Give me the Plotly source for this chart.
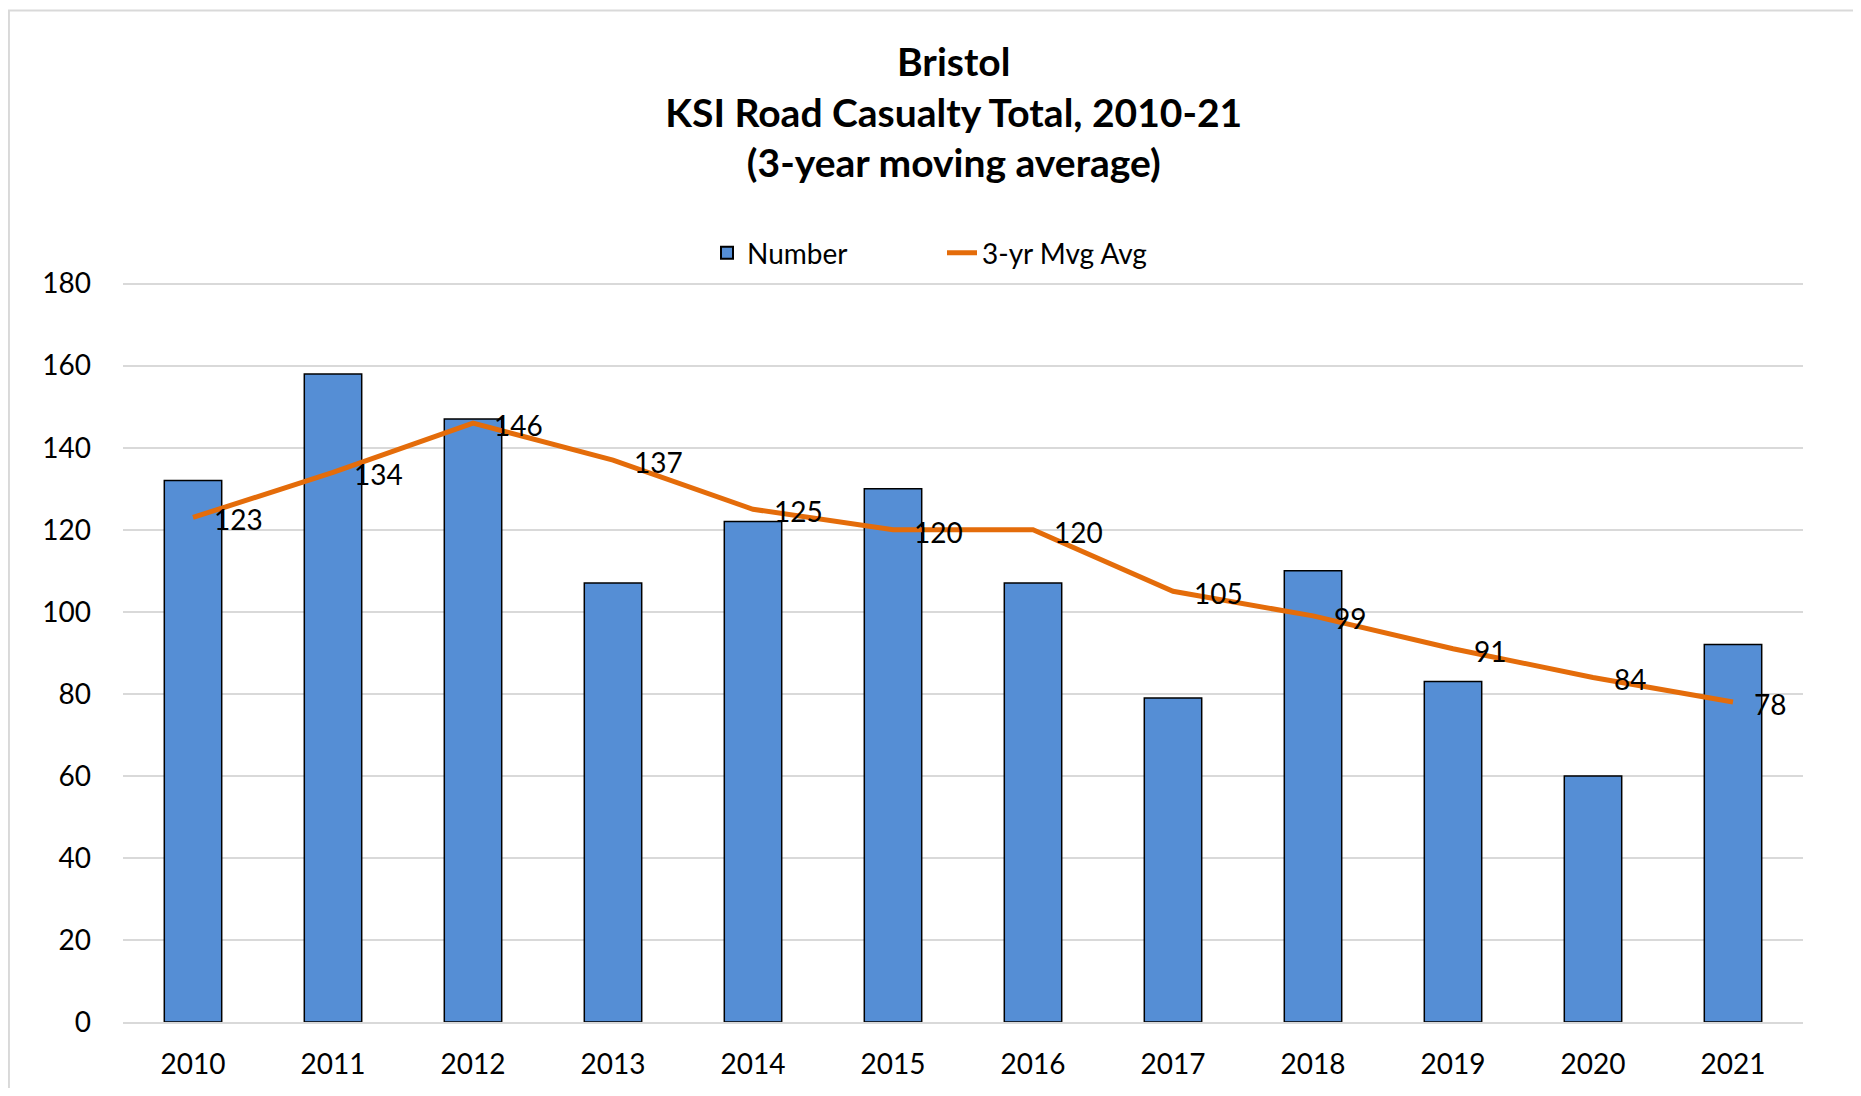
import plotly.graph_objects as go

years = ["2010", "2011", "2012", "2013", "2014", "2015", "2016", "2017", "2018", "2019", "2020", "2021"]
number = [132, 158, 147, 107, 122, 130, 107, 79, 110, 83, 60, 92]
mvg_avg = [123, 134, 146, 137, 125, 120, 120, 105, 99, 91, 84, 78]
y_ticks = [0, 20, 40, 60, 80, 100, 120, 140, 160, 180]

FONT = "Lato"
FS = 28

fig = go.Figure()
fig.add_trace(go.Bar(
    x=years, y=number, name="Number",
    marker=dict(color="#558ED5", line=dict(color="#000000", width=1.5)),
))
fig.add_trace(go.Scatter(
    x=years, y=mvg_avg, name="3-yr Mvg Avg", mode="lines",
    line=dict(color="#E46C0A", width=5),
))

annotations = []
for i, v in enumerate(mvg_avg):
    annotations.append(dict(
        x=i, y=v, xref="x", yref="y", text=str(v), showarrow=False,
        xanchor="left", yanchor="middle", xshift=19, yshift=-2,
        font=dict(family=FONT, size=FS, color="#000000"),
    ))

fig.update_layout(
    title=dict(
        text="<b>Bristol</b><br><b>KSI Road Casualty Total, 2010-21</b><br><b>(3-year moving average)</b>",
        x=0.5126, xref="container", xanchor="center",
        y=0.937, yref="container", yanchor="middle",
        font=dict(family=FONT, size=39, color="#000000"),
    ),
    font=dict(family=FONT, size=FS, color="#000000"),
    plot_bgcolor="#FFFFFF",
    paper_bgcolor="#FFFFFF",
    margin=dict(l=115, r=50, t=274, b=66),
    bargap=0.59,
    showlegend=True,
    legend=dict(
        orientation="h", x=0.4875, xanchor="center", y=1.039, yanchor="middle",
        font=dict(family=FONT, size=FS, color="#000000"),
        itemsizing="constant", entrywidth=190, entrywidthmode="pixels",
    ),
    annotations=annotations,
    shapes=[dict(
        type="rect", xref="paper", yref="paper",
        x0=-0.0679, x1=1.2, y0=-0.3, y1=1.367,
        line=dict(color="#D9D9D9", width=2), fillcolor="rgba(0,0,0,0)", layer="below",
    )],
)
fig.update_xaxes(
    type="category", range=[-0.5, len(years) - 0.5], automargin=False,
    showgrid=False, showline=True, linecolor="#D9D9D9", linewidth=2,
    ticks="", ticklabelstandoff=16, tickfont=dict(family=FONT, size=FS, color="#000000"),
)
fig.update_yaxes(
    range=[0, 180.4], tickvals=y_ticks, automargin=False,
    showgrid=True, gridcolor="#D9D9D9", gridwidth=1.5,
    zeroline=False, showline=False, ticks="", ticklabelstandoff=31,
    tickfont=dict(family=FONT, size=FS, color="#000000"),
)

fig.write_html("out.html")
